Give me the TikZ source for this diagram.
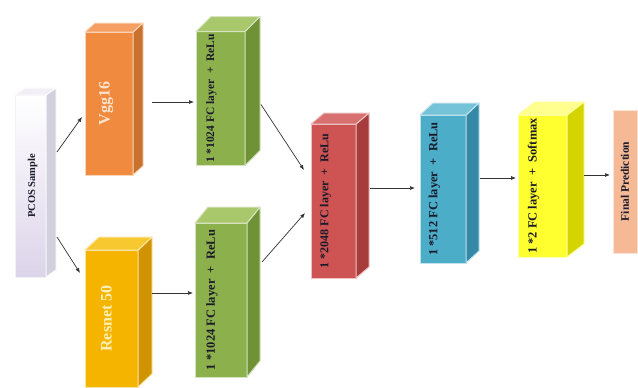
\documentclass[tikz,border=0pt]{standalone}
\usepackage{fontspec}
\setmainfont{Liberation Serif}
\usetikzlibrary{arrows.meta,calc}

\definecolor{pcosF}{HTML}{DCD4EA}
\definecolor{pcosS}{HTML}{D2D0DC}
\definecolor{pcosT}{HTML}{F2F0F6}
\definecolor{vggF}{HTML}{F08A3E}
\definecolor{vggS}{HTML}{C8722E}
\definecolor{vggT}{HTML}{F5A062}
\definecolor{vggX}{HTML}{FCE2CC}
\definecolor{grnF}{HTML}{8CB04C}
\definecolor{grnS}{HTML}{6F9236}
\definecolor{grnT}{HTML}{A9C86C}
\definecolor{resF}{HTML}{F5B400}
\definecolor{resS}{HTML}{D09400}
\definecolor{resT}{HTML}{F8C830}
\definecolor{resX}{HTML}{FFF0B8}
\definecolor{redF}{HTML}{CD5452}
\definecolor{redS}{HTML}{A63C3C}
\definecolor{redT}{HTML}{D87070}
\definecolor{bluF}{HTML}{4BADC8}
\definecolor{bluS}{HTML}{3589A6}
\definecolor{bluT}{HTML}{75C3D8}
\definecolor{yelF}{HTML}{FFFF30}
\definecolor{yelS}{HTML}{D4D400}
\definecolor{yelT}{HTML}{FFFF90}
\definecolor{finF}{HTML}{F5B995}
\definecolor{txt}{HTML}{1A1A2A}

\tikzset{
  front/.style={draw=#1!35!white, line width=1pt, outer sep=0pt, inner sep=0pt, text=txt},
  face/.style={line width=1pt, line join=round},
  conn/.style={draw=black!80, line width=0.7pt, -{Latex[length=5pt,width=4pt]}},
}

% #1 node name, #2 dx, #3 dy, #4 side colour, #5 top colour, #6 edge colour
\newcommand\cubefaces[6]{%
  \filldraw[face, fill=#4, draw=#6] (#1.north east) -- ++(#2,-#3) -- ($(#1.south east)+(#2,-#3)$) -- (#1.south east) -- cycle;
  \filldraw[face, fill=#5, draw=#6] (#1.north west) -- ++(#2,-#3) -- ($(#1.north east)+(#2,-#3)$) -- (#1.north east) -- cycle;
}
% #1 size, #2 left shift (pt), #3 text
\newcommand\vtext[3]{\rotatebox{90}{\fontsize{#1}{#1}\selectfont\bfseries #3}\hspace*{#2}}

\begin{document}
\begin{tikzpicture}[x=1pt,y=-1pt]
\useasboundingbox[fill=white] (0,0) rectangle (638,388);

% PCOS sample
\node[front=pcosF, top color=white, bottom color=pcosF, minimum width=31pt, minimum height=182pt] (pcos) at (30.5,186) {\hspace*{4pt}\vtext{10.5}{0pt}{PCOS Sample}};
\cubefaces{pcos}{10}{7}{pcosS}{pcosT}{white!90!pcosF}

% Vgg16
\node[front=vggF, fill=vggF, text=vggX, minimum width=48pt, minimum height=143pt] (vgg) at (109,103.5) {\vtext{16}{6pt}{Vgg16}};
\cubefaces{vgg}{10}{9}{vggS}{vggT}{vggF!35!white}

% Resnet 50
\node[front=resF, fill=resF, text=resX, minimum width=53pt, minimum height=137pt] (res) at (111.5,318.5) {\vtext{16}{10pt}{Resnet 50}};
\cubefaces{res}{14}{13}{resS}{resT}{resF!35!white}

% FC 1024 (top)
\node[front=grnF, fill=grnF, minimum width=49pt, minimum height=134pt] (fca) at (220.5,98.5) {\vtext{11.5}{18pt}{1 *1024 FC layer\ \ +\ \ ReLu}};
\cubefaces{fca}{15}{15}{grnS}{grnT}{grnF!35!white}

% FC 1024 (bottom)
\node[front=grnF, fill=grnF, minimum width=52pt, minimum height=154pt] (fcb) at (221,300) {\vtext{12.5}{18pt}{1 *1024 FC layer\ \ +\ \ ReLu}};
\cubefaces{fcb}{13}{16}{grnS}{grnT}{grnF!35!white}

% FC 2048
\node[front=redF, fill=redF, minimum width=45pt, minimum height=154pt] (fcc) at (333.5,201) {\vtext{12}{16pt}{1 *2048 FC layer\ \ +\ \ ReLu}};
\cubefaces{fcc}{13}{11}{redS}{redT}{redF!35!white}

% FC 512
\node[front=bluF, fill=bluF, minimum width=46pt, minimum height=148pt] (fcd) at (443,189) {\vtext{12.5}{17pt}{1 *512 FC layer\ \ +\ \ ReLu}};
\cubefaces{fcd}{13}{12}{bluS}{bluT}{bluF!35!white}

% FC 2 softmax
\node[front=yelF, fill=yelF, minimum width=49pt, minimum height=142pt] (fce) at (542.5,186) {\vtext{12.5}{18pt}{1 *2 FC layer\ \ +\ \ Softmax}};
\cubefaces{fce}{17}{13}{yelS}{yelT}{yelF!50!white}

% Final prediction
\node[fill=finF, draw=finF!40!white, line width=0.8pt, outer sep=0pt, inner sep=0pt, text=txt, minimum width=24pt, minimum height=143pt] (fin) at (625,181.5) {\vtext{11.5}{0pt}{Final Prediction}};

% connectors
\draw[conn] ($(pcos.east)+(11,-34)$) -- ($(vgg.west)+(-3,13.5)$);
\draw[conn] ($(pcos.east)+(11,51)$) -- ($(res.west)+(-5,-45.5)$);
\draw[conn] ($(vgg.east)+(19,-1.5)$) -- ($(fca.west)+(-2,3.5)$);
\draw[conn] ($(res.east)+(14,-25.5)$) -- ($(fcb.west)+(-2,-7)$);
\draw[conn] ($(fca.east)+(16,6)$) -- ($(fcc.west)+(-7,-31)$);
\draw[conn] ($(fcb.east)+(15,-38)$) -- ($(fcc.west)+(-6,12)$);
\draw[conn] ($(fcc.east)+(14,-13)$) -- ($(fcd.west)+(-5,-1)$);
\draw[conn] ($(fcd.east)+(14,-11)$) -- ($(fce.west)+(-2,-8)$);
\draw[conn] ($(fce.east)+(17,-11)$) -- ($(fin.west)+(-3,-6.5)$);
\end{tikzpicture}
\end{document}
